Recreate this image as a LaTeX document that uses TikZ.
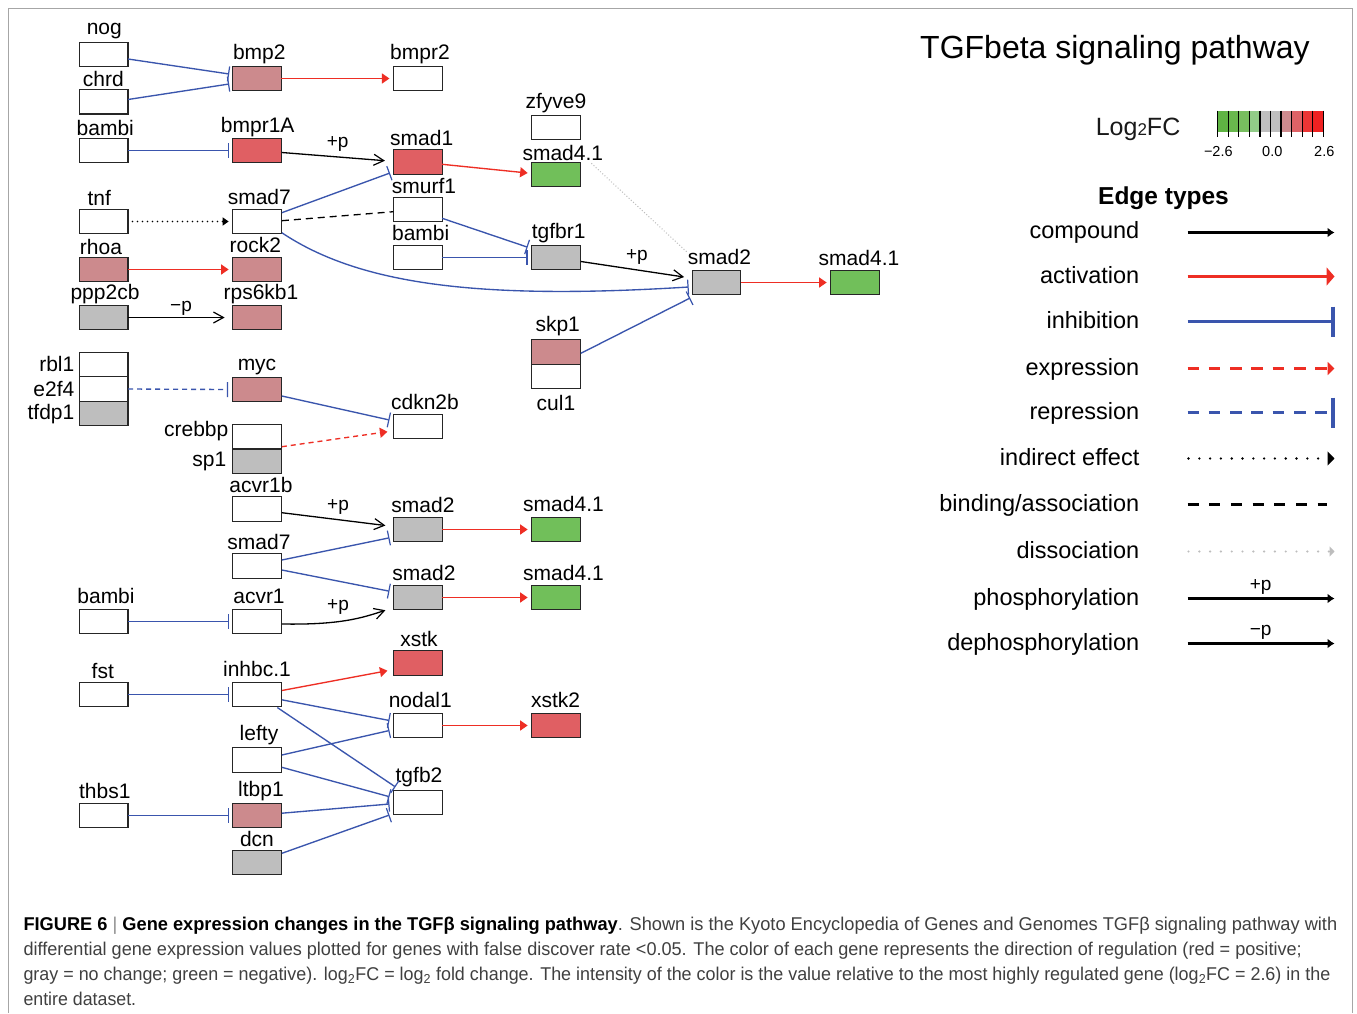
\documentclass[tikz,border=0pt]{standalone}
\usepackage{fontspec}
\setmainfont{Liberation Sans}
\usetikzlibrary{arrows.meta,calc}
\definecolor{cpink}{HTML}{CC8A8D}
\definecolor{cred}{HTML}{E05F63}
\definecolor{cgray}{HTML}{BEBEBE}
\definecolor{cgreen}{HTML}{71BF5A}
\definecolor{lblue}{HTML}{3A55AD}
\definecolor{lred}{HTML}{EE2E24}
\definecolor{framegray}{HTML}{A6A6A6}
\definecolor{captxt}{HTML}{404040}
\definecolor{dissgray}{HTML}{BDBDBD}
\definecolor{cbA}{HTML}{5FB443}
\definecolor{cbB}{HTML}{69B84D}
\definecolor{cbC}{HTML}{78BE5F}
\definecolor{cbD}{HTML}{92CC88}
\definecolor{cbE}{HTML}{BFBFBF}
\definecolor{cbF}{HTML}{BFBFBF}
\definecolor{cbG}{HTML}{CE8B8F}
\definecolor{cbH}{HTML}{DE6266}
\definecolor{cbI}{HTML}{EC3535}
\definecolor{cbJ}{HTML}{EF2121}
\begin{document}
\begin{tikzpicture}[x=1pt,y=-1pt,
  gene/.style={draw=black!85, line width=1.2pt, minimum width=48.7pt, minimum height=24.5pt, inner sep=0pt, outer sep=0pt},
  pk/.style={gene, fill=cpink}, rd/.style={gene, fill=cred}, gy/.style={gene, fill=cgray},
  gn/.style={gene, fill=cgreen}, wt/.style={gene, fill=white},
  lbl/.style={anchor=base, inner sep=0pt, font=\fontsize{21}{21}\selectfont},
  rlbl/.style={anchor=base east, inner sep=0pt, font=\fontsize{21}{21}\selectfont},
  plab/.style={anchor=base, inner sep=0pt, font=\fontsize{19}{19}\selectfont},
  inh/.style={draw=lblue, line width=1.35pt, -{Bar[width=15pt,line width=1.2pt]}},
  inhdash/.style={inh, dash pattern=on 5pt off 4pt},
  act/.style={draw=lred, line width=1.35pt, -{Triangle[length=7.5pt,width=10pt]}},
  actdash/.style={act, dash pattern=on 5pt off 4pt},
  phos/.style={draw=black, line width=1.3pt, -{Straight Barb[length=10pt,width=11pt,line width=1.2pt]}},
  indir/.style={draw=black, line width=1.7pt, line cap=round, dash pattern=on 0pt off 5pt, -{Triangle[length=6pt,width=8pt]}},
  bind/.style={draw=black, line width=1.3pt, dash pattern=on 7pt off 5pt},
  diss/.style={draw=dissgray, line width=1pt, dash pattern=on 1pt off 2pt},
  legtxt/.style={anchor=base east, inner sep=0pt, font=\fontsize{23.5}{23.5}\selectfont},
  legline/.style={line width=2.2pt},
  capline/.style={anchor=base west, inner sep=0pt}
]
\useasboundingbox (0,0) rectangle (1357,1013);
\fill[white] (0,0) rectangle (1357,1013);
\draw[framegray, line width=1pt] (8,1013) -- (8,8.5) -- (1352,8.5) -- (1352,1013);

% ---------------- gene boxes ----------------
% column A
\node[wt] (nog) at (103.7,54.5) {};
\node[wt] (chrd) at (103.7,101.8) {};
\node[wt] (bambiA) at (103.7,150.5) {};
\node[wt] (tnf) at (103.7,221.5) {};
\node[pk] (rhoa) at (103.7,269.5) {};
\node[gy] (ppp2cb) at (103.7,317.5) {};
\node[wt] (rbl1) at (103.7,364.5) {};
\node[wt] (e2f4) at (103.7,389) {};
\node[gy] (tfdp1) at (103.7,413.5) {};
\node[wt] (bambiB) at (103.7,621.5) {};
\node[wt] (fst) at (103.7,694.5) {};
\node[wt] (thbs1) at (103.7,815.5) {};
% column B
\node[pk] (bmp2) at (257,78.5) {};
\node[rd] (bmpr1A) at (257,150.5) {};
\node[wt] (smad7a) at (257,221.5) {};
\node[pk] (rock2) at (257,269.5) {};
\node[pk] (rps6kb1) at (257,317.5) {};
\node[pk] (myc) at (257,389.5) {};
\node[wt] (crebbp) at (257,436.5) {};
\node[gy] (sp1) at (257,461.5) {};
\node[wt] (acvr1b) at (257,509) {};
\node[wt] (smad7b) at (257,566) {};
\node[wt] (acvr1) at (257,621.5) {};
\node[wt] (inhbc) at (257,694.5) {};
\node[wt] (lefty) at (257,760) {};
\node[pk] (ltbp1) at (257,815.5) {};
\node[gy] (dcn) at (257,862.5) {};
% column C
\node[wt] (bmpr2) at (417.8,78.5) {};
\node[rd] (smad1) at (417.8,162) {};
\node[wt] (smurf1) at (417.8,209.5) {};
\node[wt] (bambiC) at (417.8,257.5) {};
\node[wt] (cdkn2b) at (417.8,426.5) {};
\node[gy] (smad2b) at (417.8,529.5) {};
\node[gy] (smad2c) at (417.8,597.5) {};
\node[rd] (xstk) at (417.8,663) {};
\node[wt] (nodal1) at (417.8,725.5) {};
\node[wt] (tgfb2) at (417.8,802.5) {};
% column D
\node[wt] (zfyve9) at (556,127.5) {};
\node[gn] (smad4a) at (556,174.5) {};
\node[gy] (tgfbr1) at (556,257.5) {};
\node[pk] (skp1) at (556,352) {};
\node[wt] (cul1) at (556,376.5) {};
\node[gn] (smad4b) at (556,529.5) {};
\node[gn] (smad4c) at (556,597.5) {};
\node[rd] (xstk2) at (556,725.5) {};
% right
\node[gy] (smad2a) at (716.5,282.5) {};
\node[gn] (smad4d) at (855,282.5) {};

% ---------------- gene labels ----------------
\node[lbl] (Lnog) at (104.3,34.5) {nog};
\node[lbl] (Lchrd) at (103.3,86) {chrd};
\node[lbl] (LbambiA) at (105.3,135) {bambi};
\node[lbl] (Ltnf) at (99.3,205) {tnf};
\node[lbl] (Lrhoa) at (101,254.3) {rhoa};
\node[lbl] (Lppp2cb) at (105,299.3) {ppp2cb};
\node[rlbl] (Lrbl1) at (74.5,371.7) {rbl1};
\node[rlbl] (Le2f4) at (74.5,396.7) {e2f4};
\node[rlbl] (Ltfdp1) at (74.5,419) {tfdp1};
\node[lbl] (LbambiB) at (106,603.3) {bambi};
\node[lbl] (Lfst) at (102.8,678.3) {fst};
\node[lbl] (Lthbs1) at (104.8,798.3) {thbs1};
\node[lbl] (Lbmp2) at (259.3,59.3) {bmp2};
\node[lbl] (Lbmpr1A) at (257.7,132.7) {bmpr1A};
\node[lbl] (Lsmad7a) at (259.3,204) {smad7};
\node[lbl] (Lrock2) at (255.3,252.3) {rock2};
\node[lbl] (Lrps6kb1) at (261,299.7) {rps6kb1};
\node[lbl] (Lmyc) at (257,370.7) {myc};
\node[rlbl] (Lcrebbp) at (228.5,436) {crebbp};
\node[rlbl] (Lsp1) at (226.5,466) {sp1};
\node[lbl] (Lacvr1b) at (261,492.3) {acvr1b};
\node[lbl] (Lsmad7b) at (259,549.3) {smad7};
\node[lbl] (Lacvr1) at (259,603.3) {acvr1};
\node[lbl] (Linhbc) at (257,676.7) {inhbc.1};
\node[lbl] (Llefty) at (259,740) {lefty};
\node[lbl] (Lltbp1) at (261,796.7) {ltbp1};
\node[lbl] (Ldcn) at (257,846.7) {dcn};
\node[lbl] (Lbmpr2) at (420,59.3) {bmpr2};
\node[lbl] (Lsmad1) at (421.7,145) {smad1};
\node[lbl] (Lsmurf1) at (424,193.3) {smurf1};
\node[lbl] (LbambiC) at (420.7,240.7) {bambi};
\node[lbl] (Lcdkn2b) at (425,409) {cdkn2b};
\node[lbl] (Lsmad2b) at (423,512.7) {smad2};
\node[lbl] (Lsmad2c) at (424,580.7) {smad2};
\node[lbl] (Lxstk) at (419,646) {xstk};
\node[lbl] (Lnodal1) at (420.3,707.3) {nodal1};
\node[lbl] (Ltgfb2) at (419,782.7) {tgfb2};
\node[lbl] (Lzfyve9) at (556,108.8) {zfyve9};
\node[lbl] (Lsmad4a) at (562.8,160) {smad4.1};
\node[lbl] (Ltgfbr1) at (558.7,238) {tgfbr1};
\node[lbl] (Lskp1) at (557.7,331) {skp1};
\node[lbl] (Lcul1) at (556,410) {cul1};
\node[lbl] (Lsmad4b) at (563.5,511.7) {smad4.1};
\node[lbl] (Lsmad4c) at (563.5,580) {smad4.1};
\node[lbl] (Lxstk2) at (555.6,707.3) {xstk2};
\node[lbl] (Lsmad2a) at (719.5,264.3) {smad2};
\node[lbl] (Lsmad4d) at (859,265) {smad4.1};

% ---------------- edges ----------------
\draw[inh] ($(nog.east)+(0,4.5)$) -- ($(bmp2.west)+(-3.5,-4.5)$);
\draw[inh] ($(chrd.east)+(0,-2.3)$) -- ($(bmp2.west)+(-3.5,5.5)$);
\draw[act] (bmp2.east) -- ($(bmpr2.west)+(-4,0)$);
\draw[inh] (bambiA.east) -- ($(bmpr1A.west)+(-3.5,0)$);
\draw[phos] ($(bmpr1A.east)+(0.5,2)$) -- ($(smad1.west)+(-8.5,-1.3)$);
\node[plab] (pp1) at (337.7,147) {+p};
\draw[inh] ($(smad7a.east)+(0.5,-8.8)$) -- ($(smad1.west)+(-3.5,11)$);
\draw[bind] ($(smad7a.east)+(0.5,-0.8)$) -- ($(smurf1.west)+(0,2.2)$);
\draw[inh] ($(smad7a.south east)+(0.5,-1)$) .. controls (360,285) and (480,300) .. ($(smad2a.west)+(-3.5,4.5)$);
\draw[indir] ($(tnf.east)+(4.5,0)$) -- ($(smad7a.west)+(-4,0)$);
\draw[act] (rhoa.east) -- ($(rock2.west)+(-4,0)$);
\draw[phos] (ppp2cb.east) -- ($(rps6kb1.west)+(-8,0)$);
\node[plab] (mp1) at (181,311) {−p};
\draw[act] ($(smad1.east)+(0,2.3)$) -- ($(smad4a.west)+(-4,-1.5)$);
\draw[diss] ($(smad4a.north east)+(11,1)$) -- ($(smad2a.north west)+(-5,-18)$);
\draw[inh] ($(smurf1.east)+(0,8.8)$) -- ($(tgfbr1.west)+(-4,-10.3)$);
\draw[inh] (bambiC.east) -- ($(tgfbr1.west)+(-4,0)$);
\draw[phos] ($(tgfbr1.east)+(0.5,4)$) -- ($(smad2a.west)+(-8,-5.5)$);
\node[plab] (pp2) at (636.9,260.7) {+p};
\draw[inh] ($(skp1.east)+(0.5,1.3)$) -- ($(smad2a.west)+(-2,15.5)$);
\draw[act] (smad2a.east) -- ($(smad4d.west)+(-4,0)$);
\draw[inhdash] (e2f4.east) -- ($(myc.west)+(-4.5,0)$);
\draw[inh] ($(myc.east)+(0.5,6.5)$) -- ($(cdkn2b.west)+(-4,-6.5)$);
\draw[actdash] ($(crebbp.east)+(0.5,10.2)$) -- ($(cdkn2b.west)+(-6,5.2)$);
\draw[phos] ($(acvr1b.east)+(0.5,3.7)$) -- ($(smad2b.west)+(-8,-4)$);
\node[plab] (pp3) at (338,510.7) {+p};
\draw[inh] ($(smad7b.east)+(0.5,-6)$) -- ($(smad2b.west)+(-4,8.3)$);
\draw[inh] ($(smad7b.east)+(0.5,4)$) -- ($(smad2c.west)+(-4,-6.3)$);
\draw[phos] ($(acvr1.east)+(0.5,2.5)$) .. controls (340,625) and (362,618) .. ($(smad2c.west)+(-8,12.7)$);
\node[plab] (pp4) at (338,610.7) {+p};
\draw[act] (smad2b.east) -- ($(smad4b.west)+(-4,0)$);
\draw[act] (smad2c.east) -- ($(smad4c.west)+(-4,0)$);
\draw[inh] (bambiB.east) -- ($(acvr1.west)+(-3.5,0)$);
\draw[inh] (fst.east) -- ($(inhbc.west)+(-3.5,0)$);
\draw[act] ($(inhbc.east)+(0.5,-4)$) -- ($(xstk.west)+(-6,7.7)$);
\draw[inh] ($(inhbc.east)+(0.5,5.3)$) -- ($(nodal1.west)+(-4,-5)$);
\draw[inh] ($(inhbc.south east)+(-4,0.8)$) -- ($(tgfb2.north west)+(2,-3.3)$);
\draw[act] (nodal1.east) -- ($(xstk2.west)+(-4,0)$);
\draw[inh] ($(lefty.east)+(0.5,-5)$) -- ($(nodal1.west)+(-4,5)$);
\draw[inh] ($(lefty.east)+(0.5,7.3)$) -- ($(tgfb2.west)+(-4,-5.8)$);
\draw[inh] (thbs1.east) -- ($(ltbp1.west)+(-3.5,0)$);
\draw[inh] ($(ltbp1.east)+(0.5,-2.3)$) -- ($(tgfb2.west)+(-4,1.5)$);
\draw[inh] ($(dcn.east)+(0.5,-9.2)$) -- ($(tgfb2.west)+(-4,12.5)$);

% ---------------- title and colour key ----------------
\node[anchor=base west, inner sep=0pt, font=\fontsize{32}{32}\selectfont] (title) at (920,58.5) {TGFbeta signaling pathway};
\node[anchor=base east, inner sep=0pt, font=\fontsize{25}{25}\selectfont, text=black!90] (log2fc) at (1180.5,135) {Log{\fontsize{17}{17}\selectfont 2}FC};
\foreach \c [count=\i from 0] in {cbA,cbB,cbC,cbD,cbE,cbF,cbG,cbH,cbI,cbJ}{
  \fill[\c] (1217.7+10.55*\i,110.5) rectangle (1217.7+10.55*\i+10.55,131.7);
}
\foreach \i in {0,...,10}{
  \draw[black, line width=1.2pt] (1217.7+10.55*\i,110.5) -- (1217.7+10.55*\i,136.7);
}
\node[anchor=base, inner sep=0pt, font=\fontsize{14.5}{14.5}\selectfont] (cbl1) at (1218.3,156.7) {−2.6};
\node[anchor=base, inner sep=0pt, font=\fontsize{14.5}{14.5}\selectfont] (cbl2) at (1272.3,156.7) {0.0};
\node[anchor=base, inner sep=0pt, font=\fontsize{14.5}{14.5}\selectfont] (cbl3) at (1324.3,156.7) {2.6};

% ---------------- edge type legend ----------------
\node[anchor=base, inner sep=0pt, font=\fontsize{24.5}{24.5}\selectfont\bfseries] (edgetypes) at (1163.5,204.3) {Edge types};
\node[legtxt] (t1) at (1139.5,238.8) {compound};
\node[legtxt] (t2) at (1139.5,283.2) {activation};
\node[legtxt] (t3) at (1139.5,328.4) {inhibition};
\node[legtxt] (t4) at (1139.5,375.2) {expression};
\node[legtxt] (t5) at (1139.5,419.4) {repression};
\node[legtxt] (t6) at (1139.5,465) {indirect effect};
\node[legtxt] (t7) at (1139.5,511) {binding/association};
\node[legtxt] (t8) at (1139.5,558.6) {dissociation};
\node[legtxt] (t9) at (1139.5,605) {phosphorylation};
\node[legtxt] (t10) at (1139.5,650.4) {dephosphorylation};

\coordinate (a1) at (1187.5,232.5); \coordinate (b1) at (1334.5,232.5);
\coordinate (a2) at (1187.5,276.5); \coordinate (b2) at (1334.5,276.5);
\coordinate (a3) at (1187.5,321.5); \coordinate (b3) at (1335,321.5);
\coordinate (a4) at (1187.5,368.5); \coordinate (b4) at (1334.5,368.5);
\coordinate (a5) at (1187.5,412.5); \coordinate (b5) at (1335,412.5);
\coordinate (a6) at (1188.5,458.5); \coordinate (b6) at (1334.5,458.5);
\coordinate (a7) at (1187.5,504.5); \coordinate (b7) at (1327,504.5);
\coordinate (a8) at (1188.5,551.5); \coordinate (b8) at (1334.5,551.5);
\coordinate (a9) at (1187.5,598.5); \coordinate (b9) at (1334.5,598.5);
\coordinate (a10) at (1187.5,643.5); \coordinate (b10) at (1334.5,643.5);

\draw[legline, black, -{Latex[length=7pt,width=10pt]}] (a1) -- (b1);
\draw[legline, lred, -{Triangle[length=8pt,width=18pt]}] (a2) -- (b2);
\draw[legline, lblue, -{Bar[width=30pt,line width=4pt]}] (a3) -- (b3);
\draw[legline, lred, dash pattern=on 11.5pt off 9.8pt, -{Triangle[length=7pt,width=13pt]}] (a4) -- (b4);
\draw[legline, lblue, dash pattern=on 11.5pt off 9.8pt, -{Bar[width=30pt,line width=4pt]}] (a5) -- (b5);
\draw[line width=2.6pt, black, line cap=round, dash pattern=on 0pt off 10.8pt, -{Triangle[length=7pt,width=14pt]}] (a6) -- (b6);
\draw[legline, black, dash pattern=on 11pt off 10.7pt] (a7) -- (b7);
\draw[line width=2.4pt, dissgray, line cap=round, dash pattern=on 0pt off 10.8pt, -{Triangle[length=5pt,width=10pt]}] (a8) -- (b8);
\draw[legline, black, -{Latex[length=7pt,width=10pt]}] (a9) -- (b9);
\draw[legline, black, -{Latex[length=7pt,width=10pt]}] (a10) -- (b10);
\node[plab] (lp1) at (1260.7,590) {+p};
\node[plab] (lp2) at (1260.7,635) {−p};

% ---------------- caption ----------------
\node[capline] (cap1) at (23.3,930.8) {\resizebox{1313.7pt}{\height}{\fontsize{18.5}{20}\selectfont\color{captxt}\textbf{\color{black}FIGURE 6} {\color{black!45}|} \textbf{\color{black}Gene expression changes in the TGFβ signaling pathway}. Shown is the Kyoto Encyclopedia of Genes and Genomes TGFβ signaling pathway with}};
\node[capline] (cap2) at (23.3,955.6) {\resizebox{1278.4pt}{\height}{\fontsize{18.5}{20}\selectfont\color{captxt}differential gene expression values plotted for genes with false discover rate <0.05. The color of each gene represents the direction of regulation (red = positive;}};
\node[capline] (cap3) at (23.3,980.4) {\resizebox{1306.7pt}{\height}{\fontsize{18.5}{20}\selectfont\color{captxt}gray = no change; green = negative). log\textsubscript{2}FC = log\textsubscript{2} fold change. The intensity of the color is the value relative to the most highly regulated gene (log\textsubscript{2}FC = 2.6) in the}};
\node[capline] (cap4) at (23.3,1005.2) {\resizebox{112.7pt}{\height}{\fontsize{18.5}{20}\selectfont\color{captxt}entire dataset.}};
\end{tikzpicture}
\end{document}
